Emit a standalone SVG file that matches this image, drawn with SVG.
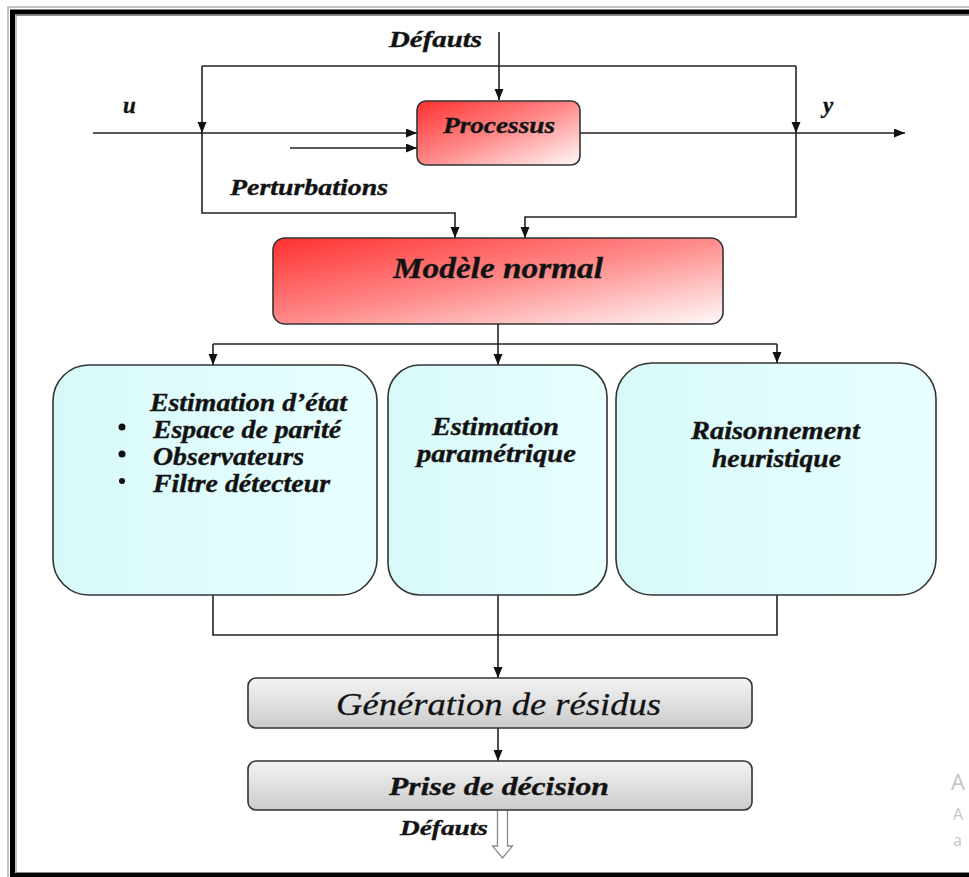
<svg xmlns="http://www.w3.org/2000/svg" width="969" height="877" viewBox="0 0 969 877">
<defs>
<style>
.t{font-family:"Liberation Serif","Times New Roman",serif;font-style:italic;font-weight:bold;fill:#111;stroke:#222;stroke-width:0.4}
.tn{font-family:"Liberation Serif","Times New Roman",serif;font-style:italic;font-weight:normal;fill:#111;stroke:#222;stroke-width:0.3}
.ln{fill:none;stroke:#222;stroke-width:1.6}
.box{stroke:#333;stroke-width:1.6}
.wm{font-family:"Open Sans","Noto Sans",sans-serif;fill:#c4c4c4}
</style>
<marker id="ah" markerUnits="userSpaceOnUse" markerWidth="12" markerHeight="10" refX="11" refY="4.5" orient="auto">
<path d="M0,0 L11,4.5 L0,9 z" fill="#111"/>
</marker>
<linearGradient id="red" x1="0" y1="0" x2="1" y2="1">
<stop offset="0" stop-color="#ff3030"/>
<stop offset="0.5" stop-color="#ff8a8a"/>
<stop offset="1" stop-color="#fffafa"/>
</linearGradient>
<linearGradient id="cyan" x1="0" y1="0" x2="1" y2="0">
<stop offset="0" stop-color="#d8f9f9"/>
<stop offset="1" stop-color="#e8ffff"/>
</linearGradient>
<linearGradient id="grey" x1="0" y1="0" x2="0" y2="1">
<stop offset="0" stop-color="#f4f4f4"/>
<stop offset="1" stop-color="#cbcbcb"/>
</linearGradient>
</defs>
<rect x="0" y="0" width="969" height="877" fill="#ffffff"/>
<g id="frame">
<rect x="8" y="7" width="1000" height="880" fill="none" stroke="#b0b0b0" stroke-width="1.5"/>
<rect x="12.5" y="12" width="1000" height="863.5" fill="none" stroke="#000" stroke-width="5"/>
<rect x="16" y="15.5" width="1000" height="857" fill="none" stroke="#8a8a8a" stroke-width="1"/>
</g>
<g id="connectors">
<path class="ln" d="M499,32 V100" marker-end="url(#ah)"/>
<path class="ln" d="M202,66 H796"/>
<path class="ln" d="M202,66 V133" marker-end="url(#ah)"/>
<path class="ln" d="M796,66 V133" marker-end="url(#ah)"/>
<path class="ln" d="M202,133 V213 H455 V238" marker-end="url(#ah)"/>
<path class="ln" d="M796,133 V217 H525 V238" marker-end="url(#ah)"/>
<path class="ln" d="M93,133 H417" marker-end="url(#ah)"/>
<path class="ln" d="M290,148 H417" marker-end="url(#ah)"/>
<path class="ln" d="M580,133 H905" marker-end="url(#ah)"/>
<path class="ln" d="M498,324 V344"/>
<path class="ln" d="M213,344 H777"/>
<path class="ln" d="M213,344 V365" marker-end="url(#ah)"/>
<path class="ln" d="M498,344 V365" marker-end="url(#ah)"/>
<path class="ln" d="M777,344 V363" marker-end="url(#ah)"/>
<path class="ln" d="M213,595 V635 H777 V595"/>
<path class="ln" d="M498,595 V678" marker-end="url(#ah)"/>
<path class="ln" d="M498,728 V761" marker-end="url(#ah)"/>
<path d="M497.5,810 V846 H492.5 L502.5,858 L512.5,846 H507.5 V810" fill="#fff" stroke="#8a8a8a" stroke-width="1.3"/>
</g>
<g id="defauts-in"><text class="t" x="389" y="47" font-size="23" textLength="93" lengthAdjust="spacingAndGlyphs">Défauts</text></g>
<g id="label-u"><text class="t" x="123" y="113" font-size="23">u</text></g>
<g id="label-y"><text class="t" x="823" y="113" font-size="23">y</text></g>
<g id="perturbations"><text class="t" x="230" y="195" font-size="24" textLength="158" lengthAdjust="spacingAndGlyphs">Perturbations</text></g>
<g id="processus">
<rect class="box" x="417" y="101" width="163" height="64" rx="9" fill="url(#red)"/>
<text class="t" x="443" y="133" font-size="23" textLength="112" lengthAdjust="spacingAndGlyphs">Processus</text>
</g>
<g id="modele-normal">
<rect class="box" x="273" y="238" width="450" height="86" rx="12" fill="url(#red)"/>
<text class="t" x="393" y="278" font-size="29" textLength="210" lengthAdjust="spacingAndGlyphs">Modèle normal</text>
</g>
<g id="estimation-etat">
<rect class="box" x="53" y="365" width="324" height="230" rx="36" fill="url(#cyan)"/>
<text class="t" x="150" y="411" font-size="25" textLength="197" lengthAdjust="spacingAndGlyphs">Estimation d’état</text>
<circle cx="122" cy="427" r="3.5" fill="#111"/>
<text class="t" x="153" y="438" font-size="25" textLength="188" lengthAdjust="spacingAndGlyphs">Espace de parité</text>
<circle cx="122" cy="454" r="3.5" fill="#111"/>
<text class="t" x="153" y="465" font-size="25" textLength="151" lengthAdjust="spacingAndGlyphs">Observateurs</text>
<circle cx="122" cy="481" r="3" fill="#111"/>
<text class="t" x="153" y="492" font-size="25" textLength="177" lengthAdjust="spacingAndGlyphs">Filtre détecteur</text>
</g>
<g id="estimation-parametrique">
<rect class="box" x="388" y="365" width="219" height="230" rx="32" fill="url(#cyan)"/>
<text class="t" x="432" y="435" font-size="25" textLength="127" lengthAdjust="spacingAndGlyphs">Estimation</text>
<text class="t" x="417" y="462" font-size="25" textLength="159" lengthAdjust="spacingAndGlyphs">paramétrique</text>
</g>
<g id="raisonnement-heuristique">
<rect class="box" x="616" y="363" width="320" height="232" rx="36" fill="url(#cyan)"/>
<text class="t" x="691" y="439" font-size="25" textLength="169" lengthAdjust="spacingAndGlyphs">Raisonnement</text>
<text class="t" x="712" y="467" font-size="25" textLength="129" lengthAdjust="spacingAndGlyphs">heuristique</text>
</g>
<g id="generation-residus">
<rect class="box" x="248" y="678" width="504" height="50" rx="8" fill="url(#grey)"/>
<text class="tn" x="336" y="715" font-size="32" textLength="325" lengthAdjust="spacingAndGlyphs">Génération de résidus</text>
</g>
<g id="prise-decision">
<rect class="box" x="248" y="761" width="504" height="49" rx="8" fill="url(#grey)"/>
<text class="t" x="389" y="795" font-size="26" textLength="220" lengthAdjust="spacingAndGlyphs">Prise de décision</text>
</g>
<g id="defauts-out"><text class="t" x="400" y="835" font-size="22" textLength="88" lengthAdjust="spacingAndGlyphs">Défauts</text></g>
<g id="watermark">
<text class="wm" x="951" y="790" font-size="22">A</text>
<text class="wm" x="953" y="820" font-size="16">A</text>
<text class="wm" x="953" y="846" font-size="16">a</text>
</g>
</svg>
